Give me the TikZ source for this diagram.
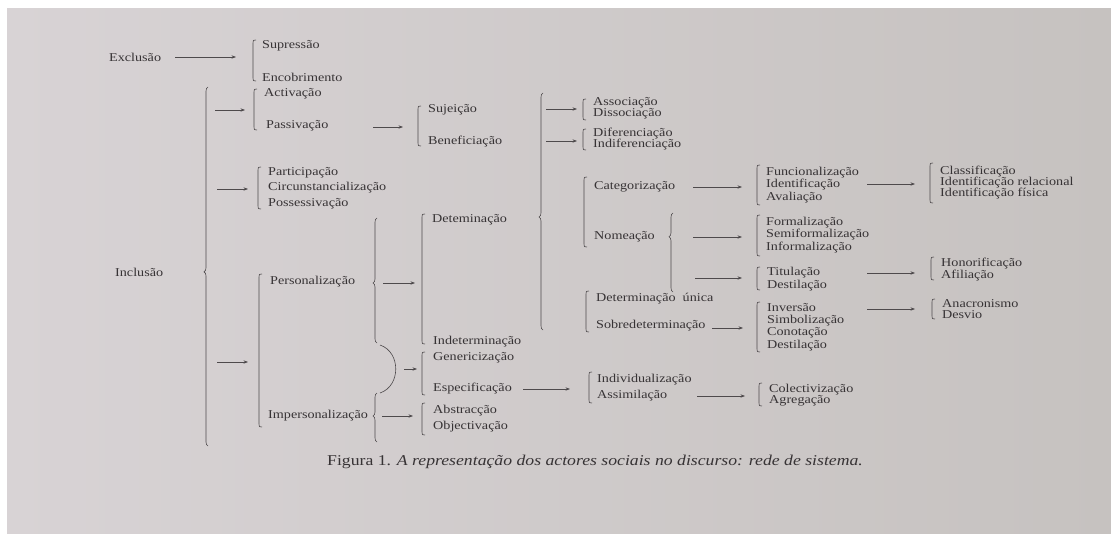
\documentclass[tikz,border=0pt]{standalone}
\usepackage{fontspec}
\setmainfont[FakeStretch=1.18]{Liberation Serif}
\usetikzlibrary{arrows.meta,decorations.pathreplacing}
\definecolor{ink}{RGB}{55,51,53}
\definecolor{lineink}{RGB}{78,74,76}
\definecolor{paperL}{RGB}{216,211,213}
\definecolor{paperR}{RGB}{198,194,192}
\tikzset{
  lab/.style={anchor=west,inner sep=0pt,text=ink,font=\fontsize{12}{12}\selectfont},
  arr/.style={draw=lineink,line width=0.65pt,-{Stealth[length=4.5pt,width=3.4pt]}},
  brk/.style={draw=lineink,line width=0.6pt},
  crl/.style={draw=lineink,line width=0.6pt,decorate},
}
\newcommand\bk[3]{\draw[brk] (#1+3,#2) .. controls (#1,#2) .. (#1,#2+3) -- (#1,#3-3) .. controls (#1,#3) .. (#1+3,#3);}
\begin{document}
\begin{tikzpicture}[x=1pt,y=-1pt]
\fill[white] (0,0) rectangle (1111,533);
\shade[left color=paperL,right color=paperR] (7,8) rectangle (1111,533);
\useasboundingbox (0,0) rectangle (1111,533);
% ---- labels
\node[lab] (exc) at (109,57) {Exclusão};
\node[lab] (sup) at (262,46) {Supressão};
\node[lab] (enc) at (262,77) {Encobrimento};
\node[lab] (inc) at (115,272) {Inclusão};
\node[lab] (act) at (264,94) {Activação};
\node[lab] (pas) at (266,126) {Passivação};
\node[lab] (suj) at (428,110) {Sujeição};
\node[lab] (ben) at (428,142) {Beneficiação};
\node[lab] (par) at (268,173) {Participação};
\node[lab] (cir) at (268,188) {Circunstancialização};
\node[lab] (pos) at (268,204) {Possessivação};
\node[lab] (per) at (270,282) {Personalização};
\node[lab] (imp) at (268,416) {Impersonalização};
\node[lab] (det) at (432,220) {Deteminação};
\node[lab] (ind) at (433,342) {Indeterminação};
\node[lab] (gen) at (433,358) {Genericização};
\node[lab] (esp) at (433,389) {Especificação};
\node[lab] (abs) at (433,411) {Abstracção};
\node[lab] (obj) at (433,427) {Objectivação};
\node[lab] (ass) at (593,103) {Associação};
\node[lab] (dis) at (593,114) {Dissociação};
\node[lab] (dif) at (593,134) {Diferenciação};
\node[lab] (indif) at (593,145) {Indiferenciação};
\node[lab] (cat) at (594,187) {Categorização};
\node[lab] (nom) at (594,237) {Nomeação};
\node[lab] (dun) at (596,299) {Determinação\ \ única};
\node[lab] (sob) at (596,326) {Sobredeterminação};
\node[lab] (fun) at (766,173) {Funcionalização};
\node[lab] (ide) at (766,185) {Identificação};
\node[lab] (ava) at (766,198) {Avaliação};
\node[lab] (for) at (766,223) {Formalização};
\node[lab] (sem) at (766,235) {Semiformalização};
\node[lab] (inf) at (766,248) {Informalização};
\node[lab] (tit) at (767,273) {Titulação};
\node[lab] (desa) at (767,286) {Destilação};
\node[lab] (inv) at (767,308) {Inversão};
\node[lab] (sim) at (767,321) {Simbolização};
\node[lab] (con) at (767,333) {Conotação};
\node[lab] (desb) at (767,346) {Destilação};
\node[lab] (cla) at (940,172) {Classificação};
\node[lab] (idr) at (940,183) {Identificação\ relacional};
\node[lab] (idf) at (940,194) {Identificação\ física};
\node[lab] (hon) at (941,264) {Honorificação};
\node[lab] (afi) at (941,276) {Afiliação};
\node[lab] (ana) at (942,304) {Anacronismo};
\node[lab] (dsv) at (942,315) {Desvio};
\node[lab] (indv) at (597,380) {Individualização};
\node[lab] (asm) at (597,396) {Assimilação};
\node[lab] (col) at (769,390) {Colectivização};
\node[lab] (agr) at (769,401) {Agregação};
\node[lab,anchor=center,font=\fontsize{15}{15}\selectfont] (cap) at (595,462) {Figura 1. \textit{A representação dos actores sociais no discurso: rede de sistema.}};
% ---- square brackets
\bk{253}{40}{81}
\bk{254}{89}{130}
\bk{418}{106}{146}
\bk{258}{167}{209}
\bk{259}{274}{427}
\bk{422}{214}{344}
\bk{422}{352}{395}
\bk{422}{403}{435}
\bk{583}{99}{120}
\bk{583}{129}{150}
\bk{584}{177}{247}
\bk{757}{165}{205}
\bk{757}{215}{256}
\bk{757}{267}{290}
\bk{586}{291}{332}
\bk{757}{302}{352}
\bk{930}{163}{203}
\bk{931}{257}{280}
\bk{932}{299}{319}
\bk{589}{372}{403}
\bk{759}{383}{406}
% ---- curly braces
\draw[crl,decoration={brace,amplitude=4pt,aspect=0.485}] (208,446) -- (208,87);
\draw[crl,decoration={brace,amplitude=4pt,aspect=0.48}] (377,343) -- (377,218);
\draw[crl,decoration={brace,amplitude=4pt,aspect=0.53}] (377,442) -- (377,393);
\draw[crl,decoration={brace,amplitude=4pt,aspect=0.477}] (543,330) -- (543,93);
\draw[crl,decoration={brace,amplitude=4pt,aspect=0.70}] (673,292) -- (673,213);
\draw[brk] (380,345) .. controls (401,352) and (401,386) .. (380,393);
% ---- arrow ends
\coordinate (e1s) at (175,57);  \coordinate (e1e) at (236,57);
\coordinate (i1s) at (215,110); \coordinate (i1e) at (245,110);
\coordinate (i2s) at (217,189); \coordinate (i2e) at (248,189);
\coordinate (i3s) at (217,362); \coordinate (i3e) at (248,362);
\coordinate (p1s) at (373,127); \coordinate (p1e) at (403,127);
\coordinate (r1s) at (383,283); \coordinate (r1e) at (415,283);
\coordinate (g1s) at (404,369); \coordinate (g1e) at (417,369);
\coordinate (m1s) at (382,416); \coordinate (m1e) at (413,416);
\coordinate (d1s) at (546,109); \coordinate (d1e) at (577,109);
\coordinate (d2s) at (546,141); \coordinate (d2e) at (577,141);
\coordinate (c1s) at (693,187); \coordinate (c1e) at (742,187);
\coordinate (n1s) at (693,237); \coordinate (n1e) at (742,237);
\coordinate (n2s) at (695,278); \coordinate (n2e) at (742,278);
\coordinate (s1s) at (712,328); \coordinate (s1e) at (743,328);
\coordinate (f1s) at (867,184); \coordinate (f1e) at (915,184);
\coordinate (t1s) at (867,273); \coordinate (t1e) at (915,273);
\coordinate (v1s) at (867,309); \coordinate (v1e) at (915,309);
\coordinate (x1s) at (523,389); \coordinate (x1e) at (570,389);
\coordinate (a1s) at (697,396); \coordinate (a1e) at (745,396);
\foreach \a in {e1,i1,i2,i3,p1,r1,g1,m1,d1,d2,c1,n1,n2,s1,f1,t1,v1,x1,a1}
  \draw[arr] (\a s) -- (\a e);
\end{tikzpicture}
\end{document}
